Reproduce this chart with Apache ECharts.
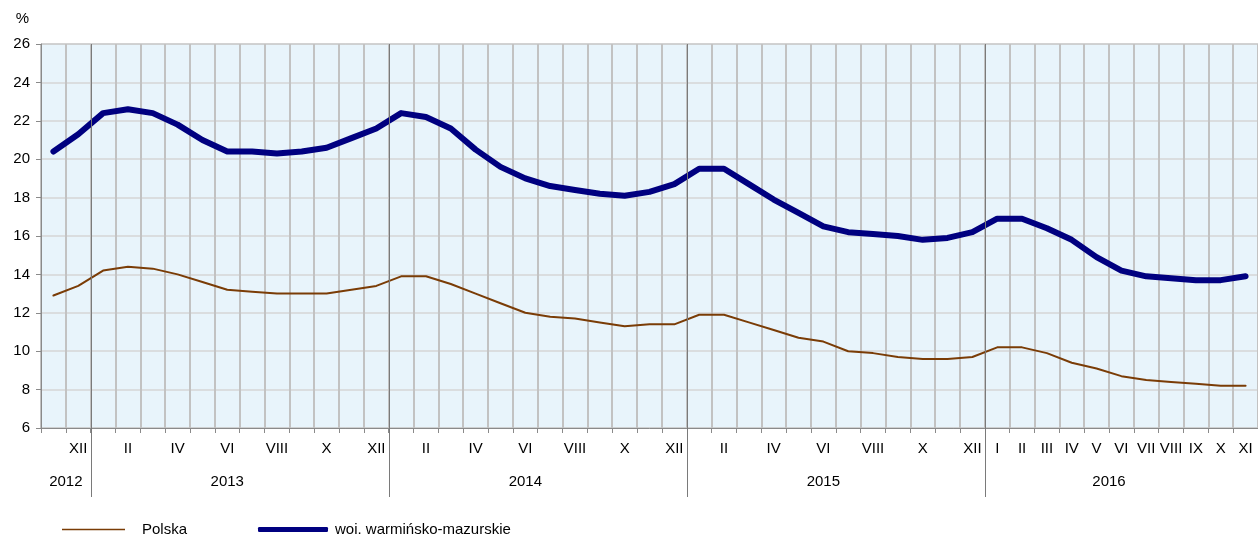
<!DOCTYPE html>
<html>
<head>
<meta charset="utf-8">
<script src="https://cdn.jsdelivr.net/npm/echarts@6/dist/echarts.min.js"></script>
<style>
html,body{margin:0;padding:0;background:#fff;}
#chart{width:1258px;height:534px;}
</style>
</head>
<body>
<div id="chart"></div>
<script>
// ---- data ----
const categories = [
  'XI 2012','XII 2012',
  'I 2013','II 2013','III 2013','IV 2013','V 2013','VI 2013','VII 2013','VIII 2013','IX 2013','X 2013','XI 2013','XII 2013',
  'I 2014','II 2014','III 2014','IV 2014','V 2014','VI 2014','VII 2014','VIII 2014','IX 2014','X 2014','XI 2014','XII 2014',
  'I 2015','II 2015','III 2015','IV 2015','V 2015','VI 2015','VII 2015','VIII 2015','IX 2015','X 2015','XI 2015','XII 2015',
  'I 2016','II 2016','III 2016','IV 2016','V 2016','VI 2016','VII 2016','VIII 2016','IX 2016','X 2016','XI 2016'
];
const monthTickLabels = [
  '','XII',
  '','II','','IV','','VI','','VIII','','X','','XII',
  '','II','','IV','','VI','','VIII','','X','','XII',
  '','II','','IV','','VI','','VIII','','X','','XII',
  'I','II','III','IV','V','VI','VII','VIII','IX','X','XI'
];
const polska = [
  12.9,13.4,
  14.2,14.4,14.3,14.0,13.6,13.2,13.1,13.0,13.0,13.0,13.2,13.4,
  13.9,13.9,13.5,13.0,12.5,12.0,11.8,11.7,11.5,11.3,11.4,11.4,
  11.9,11.9,11.5,11.1,10.7,10.5,10.0,9.9,9.7,9.6,9.6,9.7,
  10.2,10.2,9.9,9.4,9.1,8.7,8.5,8.4,8.3,8.2,8.2
];
const warminsko = [
  20.4,21.3,
  22.4,22.6,22.4,21.8,21.0,20.4,20.4,20.3,20.4,20.6,21.1,21.6,
  22.4,22.2,21.6,20.5,19.6,19.0,18.6,18.4,18.2,18.1,18.3,18.7,
  19.5,19.5,18.7,17.9,17.2,16.5,16.2,16.1,16.0,15.8,15.9,16.2,
  16.9,16.9,16.4,15.8,14.9,14.2,13.9,13.8,13.7,13.7,13.9
];
const years = ['2012','2013','2014','2015','2016'];
const yearStartIndex = [0, 2, 14, 26, 38];
const yTicks = [6, 8, 10, 12, 14, 16, 18, 20, 22, 24, 26];
const seriesNames = ['Polska', 'woj. warmińsko-mazurskie'];

// ---- chart ----
const FONT = 'Liberation Sans, Arial, sans-serif';
const chart = echarts.init(document.getElementById('chart'), null, {renderer: 'canvas'});
const option = {
  animation: false,
  backgroundColor: '#ffffff',
  grid: {
    left: 41, top: 44, width: 1221, height: 384,
    show: true, backgroundColor: '#e8f4fb', borderColor: '#8a8a8a', borderWidth: 1,
    containLabel: false
  },
  legend: [
    {
      data: [{name: seriesNames[0], icon: 'rect', itemStyle: {color: '#7a3c06'}}],
      left: 57, top: 517, padding: 5,
      itemWidth: 63, itemHeight: 1.5,
      textStyle: {fontFamily: FONT, fontSize: 15, color: '#000', padding: [0,0,0,12]}
    },
    {
      data: [{name: seriesNames[1], icon: 'roundRect', itemStyle: {color: '#000080'}}],
      left: 253, top: 517, padding: 5,
      itemWidth: 70, itemHeight: 5,
      textStyle: {fontFamily: FONT, fontSize: 15, color: '#000', padding: [0,0,0,2]}
    }
  ],
  xAxis: {
    type: 'category', data: categories, boundaryGap: true,
    axisLine: {show: true, lineStyle: {color: '#8a8a8a', width: 1}},
    axisTick: {show: true, interval: 0, length: 5, lineStyle: {color: '#8a8a8a'}},
    axisLabel: {
      interval: 0, margin: 13, fontFamily: FONT, fontSize: 15, color: '#000',
      formatter: (v, i) => monthTickLabels[i]
    },
    splitLine: {show: true, interval: 0, lineStyle: {color: '#c2c2c2', width: 2}}
  },
  yAxis: {
    type: 'value', min: yTicks[0], max: yTicks[yTicks.length - 1], interval: 2,
    name: '%', nameLocation: 'end', nameGap: 18,
    nameTextStyle: {fontFamily: FONT, fontSize: 15, color: '#000', align: 'right', padding: [0, 12, 0, 0]},
    axisLine: {show: true, lineStyle: {color: '#8a8a8a', width: 1}},
    axisTick: {show: true, length: 5, lineStyle: {color: '#8a8a8a'}},
    axisLabel: {margin: 11, fontFamily: FONT, fontSize: 15, color: '#000'},
    splitLine: {show: true, lineStyle: {color: '#d6d6d6', width: 1.5}}
  },
  series: [
    {
      name: seriesNames[0], type: 'line', data: polska, symbol: 'none', z: 3,
      lineStyle: {color: '#7a3c06', width: 2, cap: 'round', join: 'round'},
      itemStyle: {color: '#7a3c06'}
    },
    {
      name: seriesNames[1], type: 'line', data: warminsko, symbol: 'none', z: 4,
      lineStyle: {color: '#000080', width: 6, cap: 'round', join: 'round'},
      itemStyle: {color: '#000080'}
    }
  ]
};
chart.setOption(option);

// year separators and year labels, positioned from the category axis scale
const px = i => chart.convertToPixel({xAxisIndex: 0}, i);
const band = px(1) - px(0);
const yTop = chart.convertToPixel({yAxisIndex: 0}, yTicks[yTicks.length - 1]);
const yBottom = chart.convertToPixel({yAxisIndex: 0}, yTicks[0]);
const graphics = [];
yearStartIndex.forEach((s, k) => {
  if (k > 0) {
    const x = Math.round(px(s) - band / 2) + 0.5;
    graphics.push({
      type: 'line', silent: true, z: 5,
      shape: {x1: x, y1: yTop, x2: x, y2: yBottom + 69},
      style: {stroke: '#7a7a7a', lineWidth: 1}
    });
  }
});
// label anchors (Excel-style placement of multi-level labels)
const anchors = [px(0) + band / 2, px(7), px(19), px(31), px(42) + band / 2];
years.forEach((y, k) => {
  graphics.push({
    type: 'text', silent: true, z: 5,
    x: anchors[k], y: yBottom + 54,
    style: {text: y, fill: '#000', font: '15px ' + FONT, align: 'center', verticalAlign: 'middle'}
  });
});
chart.setOption({graphic: graphics});
</script>
</body>
</html>
